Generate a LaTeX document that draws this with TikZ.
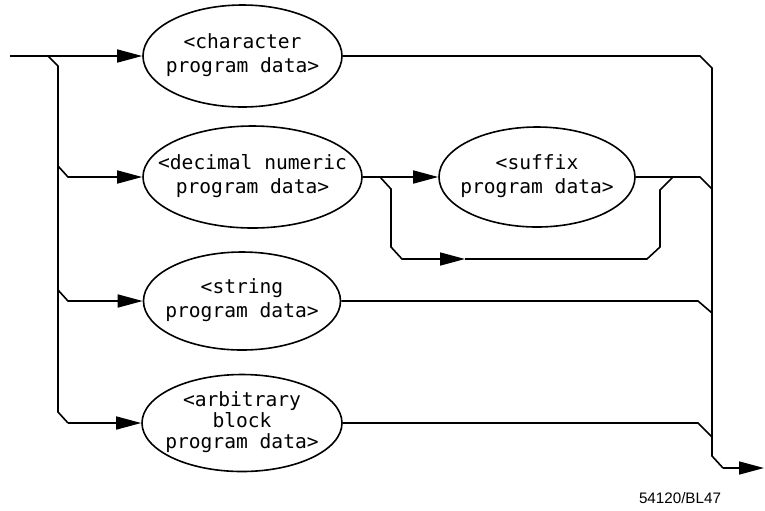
\documentclass[tikz,border=0pt]{standalone}
\usepackage{fontspec}
\newfontfamily\pdfont{DejaVu Sans Mono}
\newfontfamily\tagfont{Liberation Sans}
\usetikzlibrary{arrows.meta, shapes.geometric}

% centred lines of text that do not widen the oval
\newcommand{\pdtext}[1]{\makebox[0pt]{\begin{tabular}{@{}c@{}}#1\end{tabular}}}

\begin{document}
\begin{tikzpicture}[
  x=0.5pt, y=-0.5pt,
  line width=0.8pt,
  >={Triangle[length=12.5pt,width=6.5pt]},
  font=\pdfont\fontsize{9.8}{12}\selectfont,
  pd/.style={
    draw, ellipse, inner sep=0pt, line width=0.8pt
  }
]
\useasboundingbox (0,0) rectangle (765,510);

% the program data elements
\node[pd, minimum width=99.5pt, minimum height=51pt] (chr) at (242.5,56) {\pdtext{<character\\program data>}};
\node[pd, minimum width=109.5pt, minimum height=51pt] (dec) at (252.5,177) {\pdtext{<decimal numeric\\program data>}};
\node[pd, minimum width=98pt, minimum height=50pt] (sfx) at (537,177) {\pdtext{<suffix\\program data>}};
\node[pd, minimum width=98.5pt, minimum height=49pt] (str) at (242,301) {\pdtext{<string\\program data>}};
\node[pd, minimum width=100pt, minimum height=48.5pt,
      font=\pdfont\fontsize{9.8}{9.5}\selectfont] (arb) at (242,423) {\pdtext{<arbitrary\\block\\program data>}};

\node[font=\tagfont\fontsize{7.6}{8}\selectfont] (tag) at (680,498) {54120/BL47};

% entry, exit and split points
\coordinate (in) at (10,56);
\coordinate (split) at (48,56);
\coordinate (out) at (764,468);
\coordinate (skip) at (380,177);
\coordinate (skipmid) at (465,259);
\coordinate (join) at (673,177);

% left bus
\draw[->] (in) -- (chr);
\draw (split) -- (58,66) -- (58,412) -- (68,423);
\draw[->] (68,423) -- (arb);
\draw[->] (58,166) -- (68,177) -- (dec);
\draw[->] (58,290) -- (68,301) -- (str);

% suffix and its bypass
\draw[->] (dec) -- (sfx);
\draw[->] (skip) -- (391,189) -- (391,247) -- (402,259) -- (skipmid);
\draw (skipmid) -- (647,259) -- (660,247) -- (660,190) -- (join);

% right bus
\draw (chr) -- (700,56) -- (712,68) -- (712,456) -- (723,468);
\draw[->] (723,468) -- (out);
\draw (sfx) -- (700,177) -- (712,189);
\draw (str) -- (698,301) -- (712,313);
\draw (arb) -- (698,423) -- (712,437);

\end{tikzpicture}
\end{document}
